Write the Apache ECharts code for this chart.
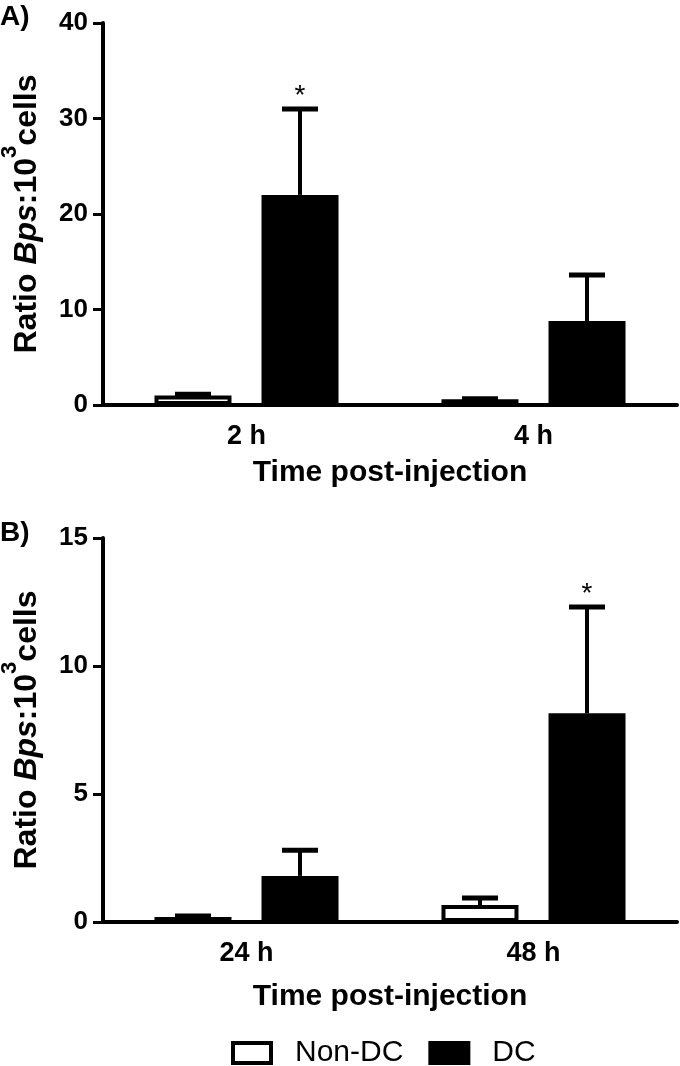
<!DOCTYPE html>
<html>
<head>
<meta charset="utf-8">
<script src="https://cdn.jsdelivr.net/npm/echarts@6/dist/echarts.min.js"></script>
<style>
html,body{margin:0;padding:0;background:#fff;}
#chart{width:680px;height:1066px;}
</style>
</head>
<body>
<div id="chart"></div>
<script>
// ---- Data ----
const categoriesA = ['2 h', '4 h'];
const nonDcA = [1.0, 0.6];
const nonDcErrA = [0.12, 0.05];
const dcA = [22.0, 8.8];
const dcErrA = [9.0, 4.8];
const sigA = ['*', ''];
const yTicksA = [0, 10, 20, 30, 40];

const categoriesB = ['24 h', '48 h'];
const nonDcB = [0.2, 0.66];
const nonDcErrB = [0.03, 0.28];
const dcB = [1.8, 8.15];
const dcErrB = [1.0, 4.15];
const sigB = ['', '*'];
const yTicksB = [0, 5, 10, 15];

const seriesNames = ['Non-DC', 'DC'];
const xTitle = 'Time post-injection';

// ---- Styling ----
const FONT = 'Liberation Sans, Arial, Helvetica, sans-serif';
const BAR_W = 77;
const BAR_OFF = 53.5;

const chart = echarts.init(document.getElementById('chart'), null, {renderer: 'canvas'});

function errRender(offset, sigs) {
  return function (params, api) {
    const i = api.value(0), m = api.value(1), e = api.value(2);
    const base = api.coord([i, m]);
    const top = api.coord([i, m + e]);
    const x = base[0] + offset;
    const children = [
      {type: 'line', shape: {x1: x, y1: base[1], x2: x, y2: top[1]}, style: {stroke: '#000', lineWidth: 4}},
      {type: 'line', shape: {x1: x - 18, y1: top[1], x2: x + 18, y2: top[1]}, style: {stroke: '#000', lineWidth: 5}}
    ];
    const s = sigs ? sigs[params.dataIndex] : '';
    if (s) {
      children.push({type: 'text', x: x, y: top[1] - 27,
        style: {text: s, fontSize: 28, fontFamily: FONT, fill: '#000', align: 'center', verticalAlign: 'top'}});
    }
    return {type: 'group', children: children};
  };
}

function errData(vals, errs) {
  return vals.map((v, i) => [i, v, errs[i]]);
}

const yName = '{b|Ratio }{i|Bps}{b|:10}{s|3}{b|cells}';
const yNameStyle = {
  color: '#000', fontFamily: FONT, fontWeight: 'bold', fontSize: 32,
  rich: {
    b: {fontFamily: FONT, fontWeight: 'bold', fontSize: 32, color: '#000', lineHeight: 44, verticalAlign: 'bottom'},
    i: {fontFamily: FONT, fontWeight: 'bold', fontStyle: 'italic', fontSize: 32, color: '#000', lineHeight: 44, verticalAlign: 'bottom'},
    s: {fontFamily: FONT, fontWeight: 'bold', fontSize: 22, color: '#000', lineHeight: 22, verticalAlign: 'top'}
  }
};

function xAxis(cats, gridIndex, gap) {
  return {
    type: 'category', gridIndex: gridIndex, data: cats,
    axisLine: {lineStyle: {color: '#000', width: 4}},
    axisTick: {show: false},
    axisLabel: {color: '#000', fontFamily: FONT, fontWeight: 'bold', fontSize: 27, margin: 18},
    name: xTitle, nameLocation: 'middle', nameGap: gap,
    nameTextStyle: {color: '#000', fontFamily: FONT, fontWeight: 'bold', fontSize: 30}
  };
}
function yAxis(ticks, gridIndex) {
  return {
    type: 'value', gridIndex: gridIndex,
    min: ticks[0], max: ticks[ticks.length - 1], interval: ticks[1] - ticks[0],
    axisLine: {show: true, lineStyle: {color: '#000', width: 4}},
    axisTick: {show: true, length: 10, lineStyle: {color: '#000', width: 3}},
    axisLabel: {color: '#000', fontFamily: FONT, fontWeight: 'bold', fontSize: 26, margin: 15},
    splitLine: {show: false},
    name: yName, nameLocation: 'middle', nameGap: 60, nameRotate: 90,
    nameTextStyle: yNameStyle
  };
}

const nonDcStyle = {color: '#fff', borderColor: '#000', borderWidth: 4};
const dcStyle = {color: '#000', borderColor: '#000', borderWidth: 0};

const option = {
  backgroundColor: '#fff',
  animation: false,
  grid: [
    {left: 103, right: 3, top: 23, height: 382, containLabel: false, outerBoundsMode: 'none'},
    {left: 103, right: 3, top: 538, height: 384, containLabel: false, outerBoundsMode: 'none'}
  ],
  xAxis: [xAxis(categoriesA, 0, 53), xAxis(categoriesB, 1, 60)],
  yAxis: [yAxis(yTicksA, 0), yAxis(yTicksB, 1)],
  legend: {
    left: 231, top: 1038, padding: 0, icon: 'rect', itemWidth: 38, itemHeight: 20, itemGap: 25,
    textStyle: {color: '#000', fontFamily: FONT, fontSize: 30, padding: [0, 0, 0, 19]},
    data: [
      {name: seriesNames[0], itemStyle: {color: '#fff', borderColor: '#000', borderWidth: 4}},
      {name: seriesNames[1], itemStyle: {color: '#000', borderColor: '#000', borderWidth: 4}}
    ]
  },
  graphic: [
    {type: 'text', left: 0, top: 3, style: {text: 'A)', fontFamily: FONT, fontWeight: 'bold', fontSize: 28, fill: '#000'}},
    {type: 'text', left: 0, top: 519, style: {text: 'B)', fontFamily: FONT, fontWeight: 'bold', fontSize: 28, fill: '#000'}}
  ],
  series: [
    {name: seriesNames[0], type: 'bar', xAxisIndex: 0, yAxisIndex: 0, data: nonDcA, barWidth: BAR_W, barGap: '39%', itemStyle: nonDcStyle},
    {name: seriesNames[1], type: 'bar', xAxisIndex: 0, yAxisIndex: 0, data: dcA, barWidth: BAR_W, barGap: '39%', itemStyle: dcStyle},
    {name: seriesNames[0], type: 'bar', xAxisIndex: 1, yAxisIndex: 1, data: nonDcB, barWidth: BAR_W, barGap: '39%', itemStyle: nonDcStyle},
    {name: seriesNames[1], type: 'bar', xAxisIndex: 1, yAxisIndex: 1, data: dcB, barWidth: BAR_W, barGap: '39%', itemStyle: dcStyle},
    {type: 'custom', xAxisIndex: 0, yAxisIndex: 0, renderItem: errRender(-BAR_OFF, null), data: errData(nonDcA, nonDcErrA), z: 5},
    {type: 'custom', xAxisIndex: 0, yAxisIndex: 0, renderItem: errRender(BAR_OFF, sigA), data: errData(dcA, dcErrA), z: 5},
    {type: 'custom', xAxisIndex: 1, yAxisIndex: 1, renderItem: errRender(-BAR_OFF, null), data: errData(nonDcB, nonDcErrB), z: 5},
    {type: 'custom', xAxisIndex: 1, yAxisIndex: 1, renderItem: errRender(BAR_OFF, sigB), data: errData(dcB, dcErrB), z: 5}
  ]
};
chart.setOption(option);
</script>
</body>
</html>
